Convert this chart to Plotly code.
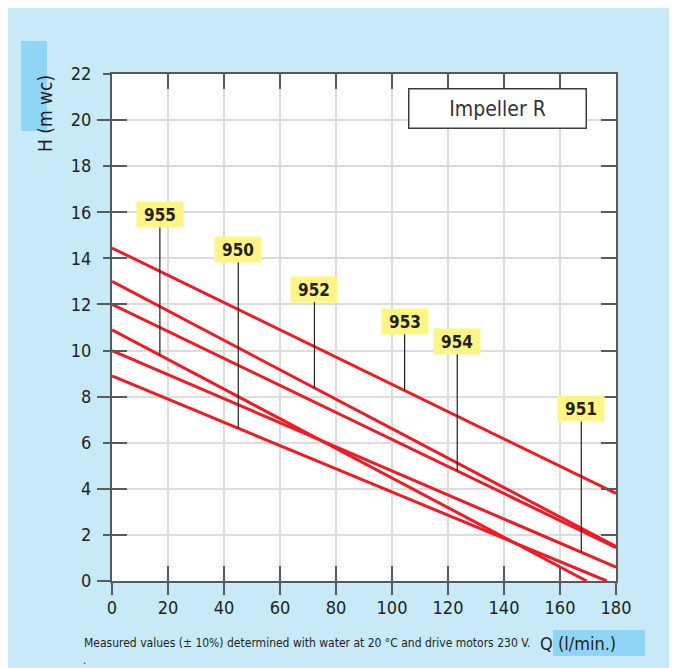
import numpy as np
import plotly.graph_objects as go

# ---------------- data ----------------
pump_names = ["955", "950", "952", "953", "954", "951"]
q_955 = [0, 169.5]
h_955 = [10.9, 0.0]
q_950 = [0, 176.7]
h_950 = [8.9, 0.0]
q_952 = [0, 180]
h_952 = [13.0, 1.5]
q_953 = [0, 180]
h_953 = [14.45, 3.8]
q_954 = [0, 180]
h_954 = [12.0, 1.45]
q_951 = [0, 180]
h_951 = [10.0, 0.6]

x_ticks = [0, 20, 40, 60, 80, 100, 120, 140, 160, 180]
y_ticks = [0, 2, 4, 6, 8, 10, 12, 14, 16, 18, 20, 22]
y_long_ticks = [0, 4, 8, 12, 16, 20]

series = {
    "955": (q_955, h_955),
    "950": (q_950, h_950),
    "952": (q_952, h_952),
    "953": (q_953, h_953),
    "954": (q_954, h_954),
    "951": (q_951, h_951),
}

# label placement (layout): Q where the pointer meets the curve, and label box height
label_pos = {
    "955": (17.1, 15.90),
    "950": (45.1, 14.38),
    "952": (72.3, 12.67),
    "953": (104.5, 11.27),
    "954": (123.3, 10.40),
    "951": (167.6, 7.48),
}

# ---------------- styling ----------------
OFF = 8                      # page body margin of the browser
W, H = 677 - OFF, 668 - OFF
ML, MR, MT, MB = 112 - OFF, 61, 74 - OFF, 87
PW, PH = W - ML - MR, H - MT - MB
FONT = "Liberation Sans Narrow, DejaVu Sans Condensed, Arial Narrow, sans-serif"
TXT = "#231f20"
RED = "#ed1c24"
LIGHT_BLUE = "#c7e9f8"
DARK_BLUE = "#8fd6f6"
GRID = "#dcdcdc"
AXIS = "#5a5a5a"


def px(xp):
    """page pixel x -> paper fraction"""
    return (xp - OFF - ML) / PW


def py(yp):
    """page pixel y -> paper fraction"""
    return ((H - MB) - (yp - OFF)) / PH


fig = go.Figure()

for name in pump_names:
    q, h = series[name]
    fig.add_trace(go.Scatter(x=q, y=h, mode="lines", name=name,
                             line=dict(color=RED, width=3), showlegend=False,
                             hoverinfo="skip"))

# dummy traces so the extra tick axes are drawn
fig.add_trace(go.Scatter(x=[], y=[], xaxis="x2", yaxis="y", showlegend=False))
fig.add_trace(go.Scatter(x=[], y=[], xaxis="x", yaxis="y2", showlegend=False))
fig.add_trace(go.Scatter(x=[], y=[], xaxis="x", yaxis="y3", showlegend=False))

annotations = []
for name in pump_names:
    q, h = series[name]
    lq, ly = label_pos[name]
    tip = float(np.interp(lq, q, h))
    annotations.append(dict(
        x=lq, y=tip, ax=lq, ay=ly, xref="x", yref="y", axref="x", ayref="y",
        text="<b>%s</b>" % name, showarrow=True, arrowhead=0, arrowwidth=1.2,
        arrowcolor=TXT, bgcolor="#fff585", width=44, height=23,
        font=dict(family=FONT, size=17, color=TXT)))

annotations += [
    dict(x=px(497), y=py(108.5), xref="paper", yref="paper", text="Impeller R",
         showarrow=False, xanchor="center", yanchor="middle", width=174, height=36,
         bgcolor="white", bordercolor="#3c3c3c", borderwidth=1.5,
         font=dict(family=FONT, size=21, color="#333333")),
    dict(x=px(45), y=py(114), xref="paper", yref="paper", text="H (m wc)",
         textangle=-90, showarrow=False, xanchor="center", yanchor="middle",
         font=dict(family=FONT, size=19, color=TXT)),
    dict(x=px(578), y=py(643), xref="paper", yref="paper", text="Q (l/min.)",
         showarrow=False, xanchor="center", yanchor="middle",
         font=dict(family=FONT, size=18, color=TXT)),
    dict(x=px(82), y=py(643), xref="paper", yref="paper",
         text="Measured values (± 10%) determined with water at 20 °C and drive motors 230 V.",
         showarrow=False, xanchor="left", yanchor="middle",
         font=dict(family=FONT, size=12, color=TXT)),
    dict(x=px(81), y=py(660), xref="paper", yref="paper", text=".",
         showarrow=False, xanchor="left", yanchor="middle",
         font=dict(family=FONT, size=11, color=TXT)),
]

shapes = [
    dict(type="rect", xref="paper", yref="paper", x0=px(8), x1=px(672),
         y0=py(700), y1=py(8), fillcolor=LIGHT_BLUE, line=dict(width=0), layer="below"),
    dict(type="rect", xref="paper", yref="paper", x0=0, x1=1, y0=0, y1=1,
         fillcolor="white", line=dict(width=0), layer="below"),
    dict(type="rect", xref="paper", yref="paper", x0=px(21), x1=px(47),
         y0=py(131), y1=py(41), fillcolor=DARK_BLUE, line=dict(width=0), layer="below"),
    dict(type="rect", xref="paper", yref="paper", x0=px(553), x1=px(645),
         y0=py(656), y1=py(630), fillcolor=DARK_BLUE, line=dict(width=0), layer="below"),
]

tickfont = dict(family=FONT, size=18, color=TXT)

fig.update_layout(
    width=W, height=H,
    margin=dict(l=ML, r=MR, t=MT, b=MB, pad=0),
    paper_bgcolor="white", plot_bgcolor="rgba(0,0,0,0)",
    shapes=shapes, annotations=annotations,
    xaxis=dict(range=[0, 180], tickvals=x_ticks, ticks="outside", ticklen=12,
               tickwidth=2, tickcolor=AXIS, showline=True, linecolor=AXIS,
               linewidth=2, mirror=True, showgrid=True, gridcolor=GRID,
               gridwidth=2, zeroline=False, tickfont=tickfont,
               ticklabelstandoff=-3, fixedrange=True),
    xaxis2=dict(range=[0, 180], overlaying="x", anchor="y", side="bottom",
                tickvals=x_ticks, ticks="inside", ticklen=15, tickwidth=2,
                tickcolor=AXIS, mirror="ticks", showline=False,
                showticklabels=False, showgrid=False, zeroline=False),
    yaxis=dict(range=[0, 22], tickvals=y_ticks, ticks="outside", ticklen=7,
               tickwidth=2, tickcolor=AXIS, showline=True, linecolor=AXIS,
               linewidth=2, mirror=True, showgrid=True, gridcolor=GRID,
               gridwidth=2, zeroline=False, tickfont=tickfont,
               ticklabelstandoff=8, fixedrange=True),
    yaxis2=dict(range=[0, 22], overlaying="y", anchor="x", side="left",
                tickvals=y_long_ticks, ticks="outside", ticklen=14, tickwidth=2,
                tickcolor=AXIS, showline=False, showticklabels=False,
                showgrid=False, zeroline=False),
    yaxis3=dict(range=[0, 22], overlaying="y", anchor="x", side="left",
                tickvals=y_ticks, ticks="inside", ticklen=15, tickwidth=2,
                tickcolor=AXIS, mirror="ticks", showline=False,
                showticklabels=False, showgrid=False, zeroline=False),
)

fig.write_html("out.html")
